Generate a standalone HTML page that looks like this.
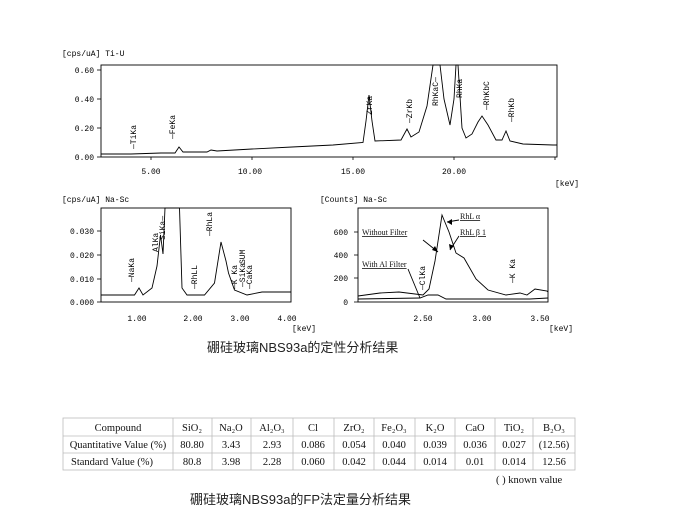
<!DOCTYPE html>
<html><head><meta charset="utf-8"><style>
body{margin:0;background:#fff;width:675px;height:520px;overflow:hidden;position:relative;font-family:"Liberation Sans",sans-serif}
svg{position:absolute;left:0;top:0}
.m{font-family:"Liberation Mono",monospace;font-size:8px;fill:#000}
.c{font-family:"Liberation Sans","Noto Sans CJK SC",sans-serif;font-size:13px;fill:#222}
.s{font-family:"Liberation Serif",serif;font-size:10.5px;fill:#111}
</style></head><body>
<svg width="675" height="520" viewBox="0 0 675 520">
<g fill="none" stroke="#000" stroke-width="0.9">
<!-- top chart -->
<rect x="101" y="65" width="456" height="92"/>
<polyline points="101,154 131,154 161,153 175,153 179,147 183,152 207,152 211,150 217,151 252,149 292,147 333,145 363,142.5 366,121 369,95 372,121 375,141 401,140 407,129 411,137 419,132 427,106 433,65 440,65 444,99 450,125 454,99 456,65 458,65 462,128 466,138 472,134 478,122 482,116 488,125 496,140 502,140 506,131 510,141 523,144 553,145 557,145"/>
<!-- bottom left -->
<rect x="101" y="208" width="190" height="94"/>
<polyline points="101,295 134.5,295 139,288 143,295 152,288 157,266 160.5,235 163,254 165,208 179.5,208 182,288 187,295 204.5,295 214.5,283 221,242 226,261 228.5,273 234.5,290 247,295 262,292 291,292"/>
<!-- bottom right -->
<rect x="358" y="208" width="190" height="94"/>
<polyline points="358,296 380,293 399,292 423,295 429,289 435,261 442,215 449,232 456,253 464,258 476,279 488,290 506,295 520,293 527,295 535,289 547,291 548,292"/>
<polyline points="358,299 420,298 428,295 438,295 446,299 500,299 530,299 548,298"/>
<!-- arrows -->
<polyline points="423,240 438,252"/><polyline points="459,220 447,222"/><polyline points="459,236 450,250"/><polyline points="408,269 420,298"/>
</g>
<g fill="#000">
<polygon points="438,252 432,250 435,246"/><polygon points="447,222 452,219 452,225"/><polygon points="450,250 449,244 454,246"/>
</g>
<!-- ticks -->
<g stroke="#000" stroke-width="0.8">
<line x1="97" y1="70" x2="101" y2="70"/><line x1="97" y1="99" x2="101" y2="99"/><line x1="97" y1="128" x2="101" y2="128"/><line x1="97" y1="157" x2="101" y2="157"/>
<line x1="151" y1="157" x2="151" y2="160"/><line x1="252" y1="157" x2="252" y2="160"/><line x1="353" y1="157" x2="353" y2="160"/><line x1="454" y1="157" x2="454" y2="160"/><line x1="555" y1="157" x2="555" y2="160"/>
<line x1="97" y1="231" x2="101" y2="231"/><line x1="97" y1="255" x2="101" y2="255"/><line x1="97" y1="279" x2="101" y2="279"/><line x1="97" y1="302" x2="101" y2="302"/>
<line x1="354" y1="232" x2="358" y2="232"/><line x1="354" y1="255" x2="358" y2="255"/><line x1="354" y1="278" x2="358" y2="278"/><line x1="354" y1="302" x2="358" y2="302"/>
</g>
<g class="m">
<text x="62" y="56">[cps/uA] Ti-U</text>
<text x="94" y="73" text-anchor="end">0.60</text><text x="94" y="102" text-anchor="end">0.40</text><text x="94" y="131" text-anchor="end">0.20</text><text x="94" y="160" text-anchor="end">0.00</text>
<text x="151" y="174" text-anchor="middle">5.00</text><text x="250" y="174" text-anchor="middle">10.00</text><text x="353" y="174" text-anchor="middle">15.00</text><text x="454" y="174" text-anchor="middle">20.00</text>
<text x="555" y="186">[keV]</text>
<text x="62" y="202">[cps/uA] Na-Sc</text>
<text x="94" y="234" text-anchor="end">0.030</text><text x="94" y="258" text-anchor="end">0.020</text><text x="94" y="282" text-anchor="end">0.010</text><text x="94" y="305" text-anchor="end">0.000</text>
<text x="137" y="321" text-anchor="middle">1.00</text><text x="193" y="321" text-anchor="middle">2.00</text><text x="240" y="321" text-anchor="middle">3.00</text><text x="287" y="321" text-anchor="middle">4.00</text>
<text x="292" y="331">[keV]</text>
<text x="320" y="202">[Counts] Na-Sc</text>
<text x="348" y="235" text-anchor="end">600</text><text x="348" y="258" text-anchor="end">400</text><text x="348" y="281" text-anchor="end">200</text><text x="348" y="305" text-anchor="end">0</text>
<text x="423" y="321" text-anchor="middle">2.50</text><text x="482" y="321" text-anchor="middle">3.00</text><text x="540" y="321" text-anchor="middle">3.50</text>
<text x="549" y="331">[keV]</text>
<!-- rotated labels top -->
<text transform="translate(136,149) rotate(-90)">—TiKa</text>
<text transform="translate(175,139) rotate(-90)">—FeKa</text>
<text transform="translate(372,115) rotate(-90)">ZrKa</text>
<text transform="translate(412,123) rotate(-90)">—ZrKb</text>
<text transform="translate(438,106) rotate(-90)">RhKaC—</text>
<text transform="translate(462,98) rotate(-90)">RhKa</text>
<text transform="translate(489,110) rotate(-90)">—RhKbC</text>
<text transform="translate(514,122) rotate(-90)">—RhKb</text>
<!-- rotated labels bottom left -->
<text transform="translate(134,282) rotate(-90)">—NaKa</text>
<text transform="translate(158,252) rotate(-90)">AlKa</text>
<text transform="translate(165,240) rotate(-90)">SiKa—</text>
<text transform="translate(197,289) rotate(-90)">—RhLL</text>
<text transform="translate(212,236) rotate(-90)">—RhLa</text>
<text transform="translate(237,289) rotate(-90)">—K Ka</text>
<text transform="translate(245,287) rotate(-90)">—SiKa</text>
<text transform="translate(252,289) rotate(-90)">—CaKa</text>
<text transform="translate(245,264) rotate(-90)">SUM</text>
<text transform="translate(425,290) rotate(-90)">—ClKa</text>
<text transform="translate(515,283) rotate(-90)">—K Ka</text>
</g>
<g class="s" style="font-size:8px">
<text x="362" y="235" text-decoration="underline">Without Filter</text>
<text x="460" y="219" text-decoration="underline">RhL α</text>
<text x="460" y="235" text-decoration="underline">RhL β 1</text>
<text x="362" y="267" text-decoration="underline">With Al Filter</text>
</g>
<text class="c" x="207" y="352">硼硅玻璃NBS93a的定性分析结果</text>
<!-- table -->
<g stroke="#bbb" stroke-width="0.8" fill="none">
<rect x="63" y="418" width="512" height="52"/>
<line x1="63" y1="436" x2="575" y2="436"/><line x1="63" y1="453" x2="575" y2="453"/>
<line x1="173" y1="418" x2="173" y2="470"/><line x1="212" y1="418" x2="212" y2="470"/><line x1="251" y1="418" x2="251" y2="470"/><line x1="293" y1="418" x2="293" y2="470"/><line x1="334" y1="418" x2="334" y2="470"/><line x1="374" y1="418" x2="374" y2="470"/><line x1="415" y1="418" x2="415" y2="470"/><line x1="455" y1="418" x2="455" y2="470"/><line x1="495" y1="418" x2="495" y2="470"/><line x1="533" y1="418" x2="533" y2="470"/>
</g>
<g class="s" text-anchor="middle">
<text x="118" y="431">Compound</text>
<text x="192" y="431">SiO₂</text><text x="231" y="431">Na₂O</text><text x="272" y="431">Al₂O₃</text><text x="313" y="431">Cl</text><text x="354" y="431">ZrO₂</text><text x="394" y="431">Fe₂O₃</text><text x="435" y="431">K₂O</text><text x="475" y="431">CaO</text><text x="514" y="431">TiO₂</text><text x="554" y="431">B₂O₃</text>
<text x="118" y="448">Quantitative Value (%)</text>
<text x="192" y="448">80.80</text><text x="231" y="448">3.43</text><text x="272" y="448">2.93</text><text x="313" y="448">0.086</text><text x="354" y="448">0.054</text><text x="394" y="448">0.040</text><text x="435" y="448">0.039</text><text x="475" y="448">0.036</text><text x="514" y="448">0.027</text><text x="554" y="448">(12.56)</text>
<text x="112" y="465">Standard Value (%)</text>
<text x="192" y="465">80.8</text><text x="231" y="465">3.98</text><text x="272" y="465">2.28</text><text x="313" y="465">0.060</text><text x="354" y="465">0.042</text><text x="394" y="465">0.044</text><text x="435" y="465">0.014</text><text x="475" y="465">0.01</text><text x="514" y="465">0.014</text><text x="554" y="465">12.56</text>
</g>
<text class="s" x="496" y="483">( ) known value</text>
<text class="c" x="190" y="504">硼硅玻璃NBS93a的FP法定量分析结果</text>
</svg>
</body></html>
